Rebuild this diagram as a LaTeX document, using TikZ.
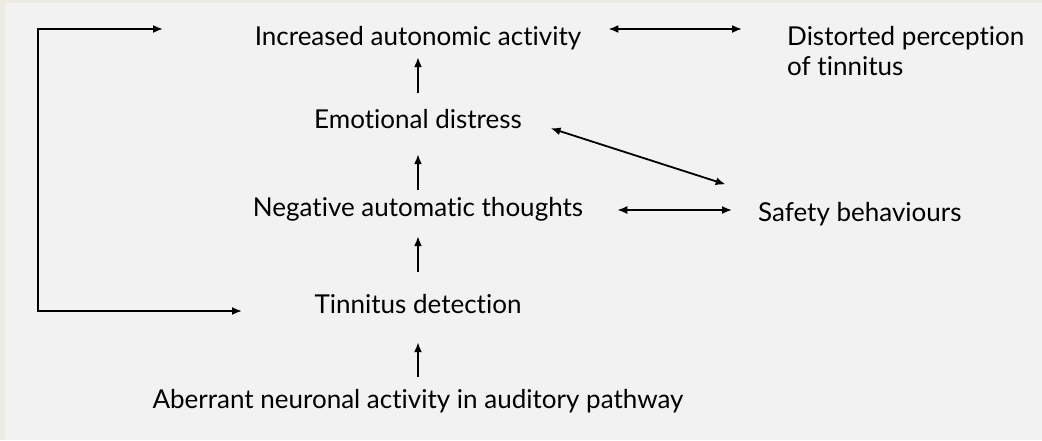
\documentclass[tikz,border=0pt]{standalone}
\usepackage{fontspec}
\setmainfont{Lato}[Ligatures={NoCommon,NoRare}]
\usetikzlibrary{arrows.meta}
\definecolor{pagebg}{RGB}{242,242,242}
\definecolor{framebg}{RGB}{237,234,226}

\begin{document}
\begin{tikzpicture}[x=1pt,y=-1pt,>={Latex[length=10pt,width=8pt]},
  box/.style={inner sep=0pt,text height=18pt,text depth=6pt,font=\fontsize{26}{30}\selectfont},
  link/.style={line width=1.8pt}]
  \fill[framebg] (0,0) rectangle (1042,440);
  \fill[pagebg] (5,3) rectangle (1042,440);
  \node[box,anchor=base] (inc) at (418,45) {Increased autonomic activity};
  \node[box,anchor=base] (emo) at (418,128) {Emotional distress};
  \node[box,anchor=base] (neg) at (418,216) {Negative automatic thoughts};
  \node[box,anchor=base] (tin) at (418,313) {Tinnitus detection};
  \node[box,anchor=base] (abe) at (418,408) {Aberrant neuronal activity in auditory pathway};
  \node[inner sep=0pt,anchor=north west,align=left,font=\fontsize{26}{30}\selectfont] (dis) at (787,26) {Distorted perception\\of tinnitus};
  \node[box,anchor=base west] (saf) at (758,221) {Safety behaviours};
  \coordinate (loopA) at (163,29);
  \coordinate (loopB) at (242,311);
  % upward chain
  \draw[link,->,shorten <=13pt,shorten >=23pt] (tin.south |- abe.north) -- (tin.south);
  \draw[link,->,shorten <=23pt,shorten >=14pt] (neg.south |- tin.north) -- (neg.south);
  \draw[link,->,shorten <=8pt,shorten >=20pt] (emo.south |- neg.north) -- (emo.south);
  \draw[link,->,shorten <=17pt,shorten >=6pt] (inc.south |- emo.north) -- (inc.south);
  % two-way links
  \draw[link,<->,shorten <=27pt,shorten >=45pt] (inc.east |- loopA) -- (dis.west |- loopA);
  \draw[link,<->,shorten <=34pt,shorten >=26pt] (neg.east) -- (neg.east -| saf.west);
  \draw[link,<->,shorten <=30pt,shorten >=34pt] ([yshift=3pt]emo.east) -- ([yshift=8pt]saf.north west);
  % feedback loop
  \draw[link,<->] (loopA) -- (38,29) |- (loopB);
\end{tikzpicture}
\end{document}
